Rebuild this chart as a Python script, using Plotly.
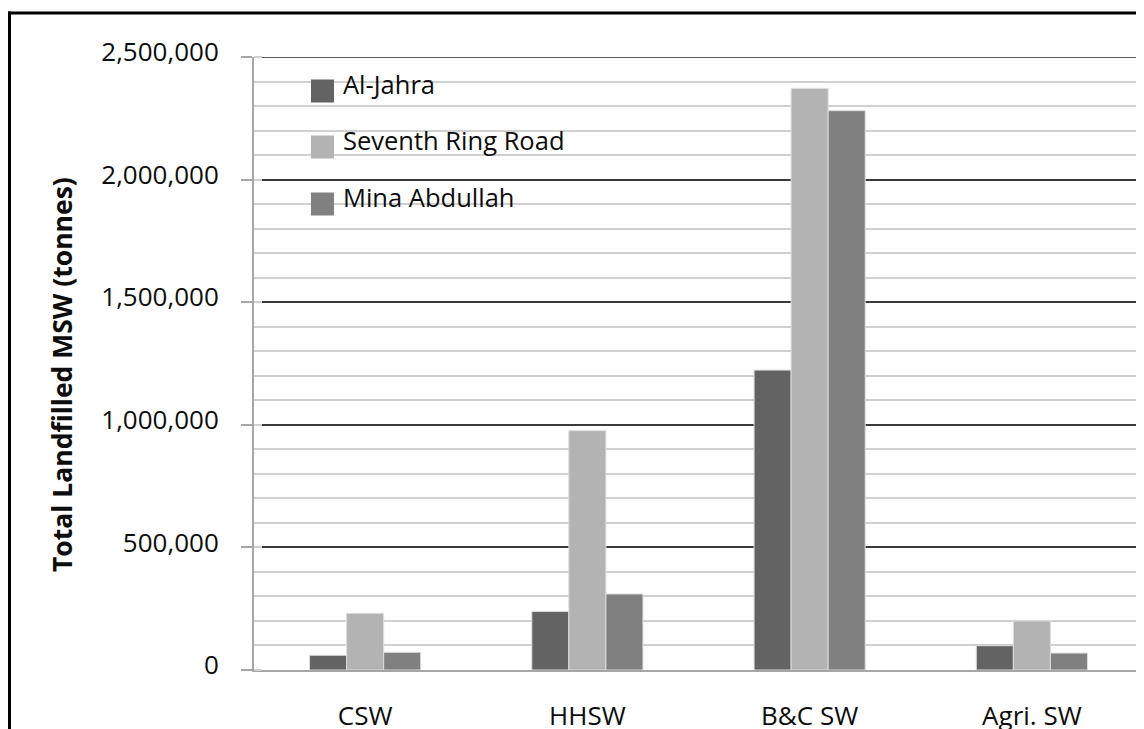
import plotly.graph_objects as go

categories = ["CSW", "HHSW", "B&C SW", "Agri. SW"]
series_names = ["Al-Jahra", "Seventh Ring Road", "Mina Abdullah"]
al_jahra = [60000, 239000, 1223000, 99000]
seventh_ring_road = [231000, 976000, 2372000, 200000]
mina_abdullah = [72000, 310000, 2281000, 69000]
y_ticks = [0, 500000, 1000000, 1500000, 2000000, 2500000]
y_tick_labels = ["0", "500,000", "1,000,000", "1,500,000", "2,000,000", "2,500,000"]
y_title = "Total Landfilled MSW (tonnes)"

colors = ["#636363", "#b3b3b3", "#808080"]
values = [al_jahra, seventh_ring_road, mina_abdullah]

# the page body adds an 8px margin, so the figure is 8px smaller than the window
W, H = 1136, 721
L, R, T, B = 246, 1, 49, 59
PW, PH = W - L - R, H - T - B


def px(x):
    return (x - L) / PW


def py(y):
    return (H - B - y) / PH


fig = go.Figure()
for name, vals, c in zip(series_names, values, colors):
    fig.add_trace(go.Bar(
        x=categories, y=vals, name=name,
        marker=dict(color=c, line=dict(color="#dcdcdc", width=1)),
        showlegend=False,
    ))

FONT = "Open Sans"
TXT = "#0d0d0d"
shapes = []
annotations = []
# figure border (top and left)
shapes.append(dict(type="line", xref="paper", yref="paper", x0=px(0), x1=px(W), y0=py(5), y1=py(5),
                   line=dict(color="#000", width=3)))
shapes.append(dict(type="line", xref="paper", yref="paper", x0=px(1.5), x1=px(1.5), y0=py(3.5), y1=py(H),
                   line=dict(color="#000", width=3)))
# top major grid line at 2,500,000
shapes.append(dict(type="line", xref="paper", yref="y", x0=0, x1=1, y0=y_ticks[-1], y1=y_ticks[-1],
                   line=dict(color="#222", width=1.5), layer="between"))
# legend box (white background hiding grid lines)
shapes.append(dict(type="rect", xref="paper", yref="paper", x0=px(256), x1=px(603), y0=py(60), y1=py(237),
                   fillcolor="white", line=dict(width=0), layer="between"))
sq_centers = [83, 139, 196]
for name, c, yc in zip(series_names, colors, sq_centers):
    shapes.append(dict(type="rect", xref="paper", yref="paper", x0=px(303), x1=px(326),
                       y0=py(yc - 11.5), y1=py(yc + 11.5), fillcolor=c, line=dict(width=0), layer="above"))
    annotations.append(dict(xref="paper", yref="paper", x=px(333), y=py(yc - 7), text=name,
                            showarrow=False, xanchor="left", yanchor="middle",
                            font=dict(family=FONT, size=25.5, color=TXT)))
# y-axis title
annotations.append(dict(xref="paper", yref="paper", x=px(54), y=py(367), text="<b>" + y_title + "</b>",
                        textangle=-90, showarrow=False, xanchor="center", yanchor="middle",
                        font=dict(family=FONT, size=26.5, color=TXT)))

fig.update_layout(
    width=W, height=H,
    margin=dict(l=L, r=R, t=T, b=B, autoexpand=False),
    paper_bgcolor="white", plot_bgcolor="white",
    barmode="group", bargap=0.5, bargroupgap=0,
    showlegend=False,
    shapes=shapes, annotations=annotations,
    font=dict(family=FONT, color=TXT),
    xaxis=dict(
        showgrid=False, showline=True, linecolor="#a6a6a6", linewidth=2,
        ticks="", ticklabelstandoff=22,
        tickfont=dict(family=FONT, size=26, color=TXT),
        zeroline=False,
    ),
    yaxis=dict(
        range=[0, 2500000],
        tickvals=y_ticks, ticktext=y_tick_labels,
        showline=True, linecolor="#a6a6a6", linewidth=2,
        ticks="outside", ticklen=11, tickwidth=2, tickcolor="#a6a6a6",
        showgrid=True, gridcolor="#3a3a3a", gridwidth=1.5,
        zeroline=False,
        minor=dict(dtick=100000, showgrid=True, gridcolor="#d0d0d0", gridwidth=2,
                   ticks="inside", ticklen=8, tickcolor="#d0d0d0", tickwidth=2),
        tickfont=dict(family=FONT, size=26, color=TXT),
        ticklabelstandoff=17, ticklabelshift=-5,
    ),
)

fig.write_html("out.html")
